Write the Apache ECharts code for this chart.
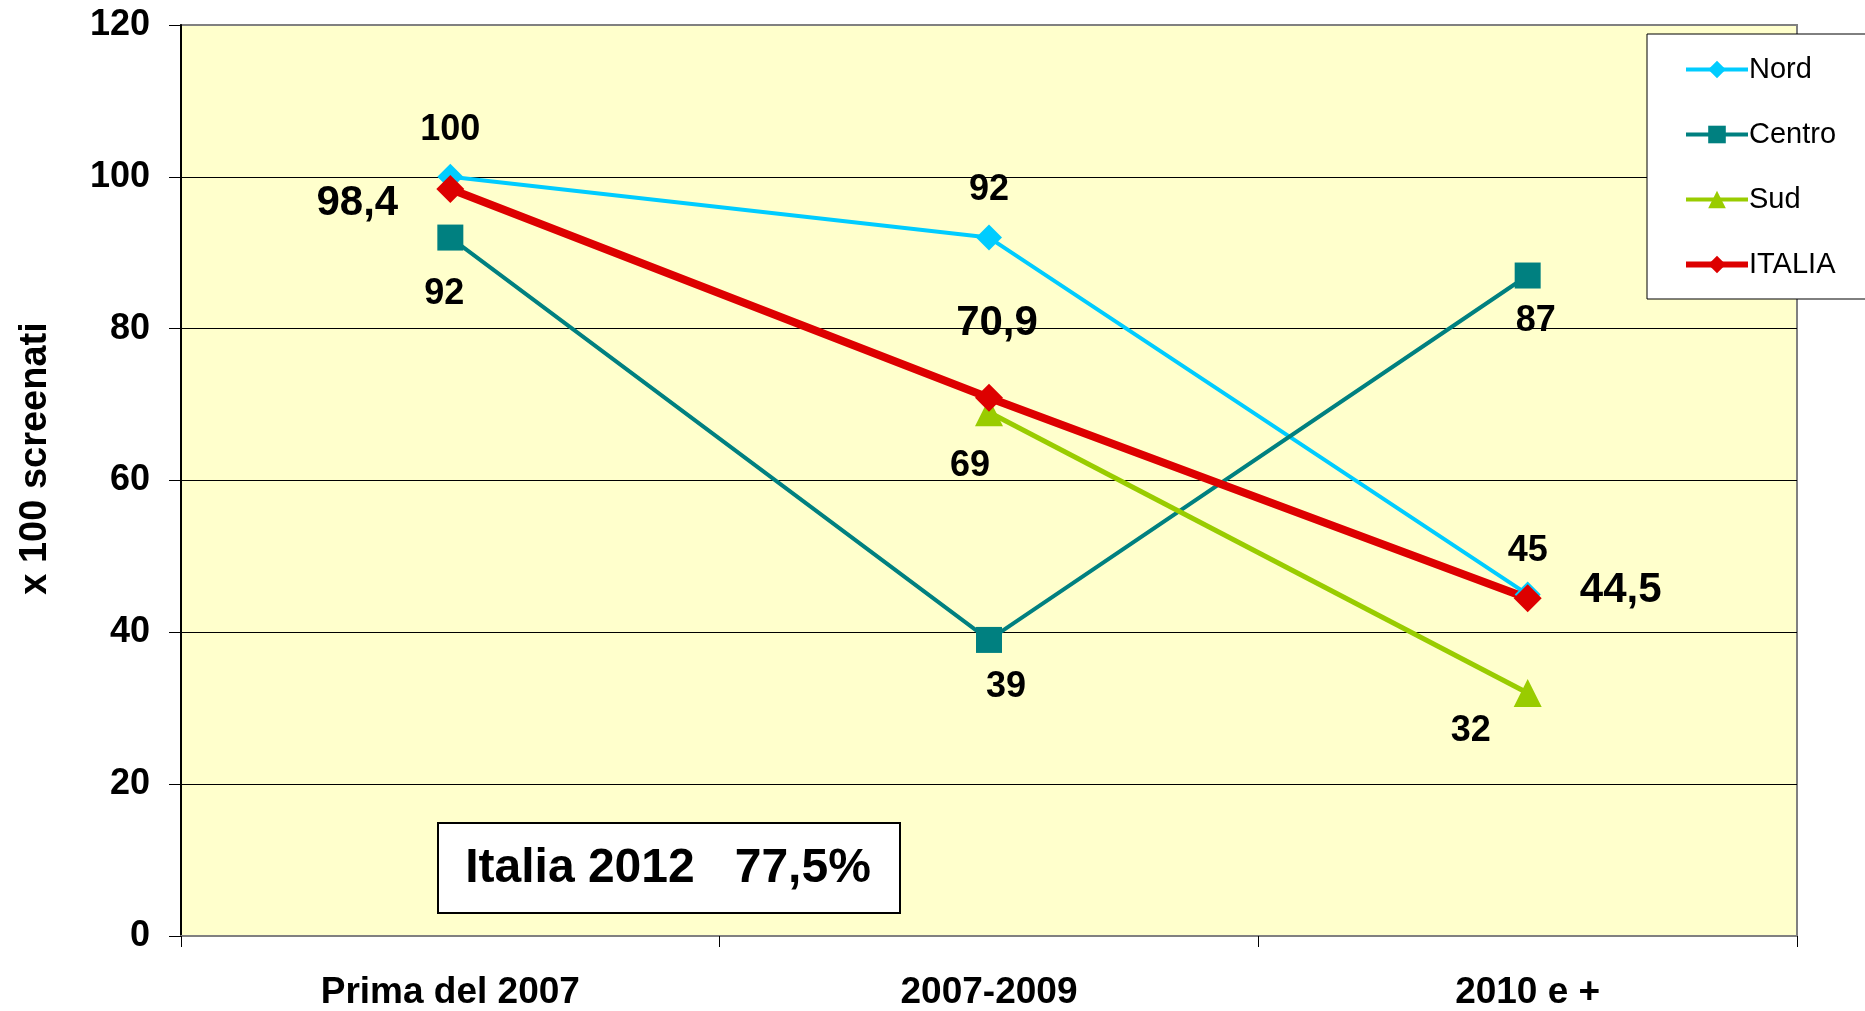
<!DOCTYPE html>
<html>
<head>
<meta charset="utf-8">
<title>x 100 screenati</title>
<script src="https://cdn.jsdelivr.net/npm/echarts@6/dist/echarts.min.js"></script>
<style>
    html, body { margin: 0; padding: 0; background: #fff; }
    #chart_form { width: 1865px; height: 1011px; }
</style>
</head>
<body>
<div id="chart_form"></div>
<script>
// dati
var categories = ["Prima del 2007", "2007-2009", "2010 e +"];
var seriesNames = ["Nord", "Centro", "Sud", "ITALIA"];
var nordValues = [100, 92, 45];
var centroValues = [92, 39, 87];
var sudValues = [null, 69, 32];
var italiaValues = [98.4, 70.9, 44.5];
var yTicks = [0, 20, 40, 60, 80, 100, 120];

// spostamento delle etichette (px) rispetto al punto
var nordOffsets = [[0, -47], [0, -47], [0, -43]];
var centroOffsets = [[-6, 57], [17, 47], [8, 46]];
var sudOffsets = [[0, 0], [-19, 54], [-57, 38]];
var italiaOffsets = [[-93, 14], [8, -74], [93, -8]];

var FONT = "'Liberation Sans', Arial, sans-serif";

var chart = {
    init: function(){
        var myChart = echarts.init(document.getElementById('chart_form'));
        myChart.setOption(chart.buildOption());
    },
    // formato numeri all'italiana
    fmt: function(v){
        return String(v).replace('.', ',');
    },
    lineSeries: function(name, values, offsets, color, width, symbol, symbolSize, labelSize){
        return {
            name: name,
            type: 'line',
            data: values,
            symbol: symbol,
            symbolSize: symbolSize,
            itemStyle: { color: color },
            lineStyle: { color: color, width: width },
            emphasis: { disabled: true },
            label: {
                show: true,
                position: 'inside',
                color: '#000',
                fontFamily: FONT,
                fontWeight: 'bold',
                fontSize: labelSize,
                formatter: function(p){ return chart.fmt(p.value); }
            },
            labelLayout: function(p){
                var o = offsets[p.dataIndex];
                return { dx: o[0], dy: o[1], hideOverlap: false };
            }
        };
    },
    legendItem: function(name, width){
        return { name: name, lineStyle: { width: width } };
    },
    buildOption: function(){
        var gridColors = yTicks.map(function(t, i){
            return (i === 0 || i === yTicks.length - 1) ? '#808080' : '#000';
        });
        return {
            animation: false,
            backgroundColor: '#fff',
            textStyle: { fontFamily: FONT },
            grid: {
                left: 181, right: 68, top: 25, bottom: 74,
                show: true,
                backgroundColor: '#FFFFCC',
                borderColor: '#808080',
                borderWidth: 2
            },
            legend: {
                orient: 'vertical',
                left: 1647,
                top: 34,
                data: [
                    chart.legendItem('Nord', 4),
                    chart.legendItem('Centro', 4),
                    chart.legendItem('Sud', 4),
                    chart.legendItem('ITALIA', 6)
                ],
                itemWidth: 62,
                itemHeight: 22,
                itemGap: 36,
                padding: [21, 60, 20, 36],
                backgroundColor: '#fff',
                borderColor: '#000',
                borderWidth: 1,
                textStyle: { fontFamily: FONT, fontSize: 29, color: '#000', padding: [0, 0, 0, -4] }
            },
            xAxis: {
                type: 'category',
                data: categories,
                boundaryGap: true,
                axisLine: { lineStyle: { color: '#808080', width: 2 } },
                axisTick: { show: true, length: 11, lineStyle: { color: '#000' } },
                axisLabel: {
                    margin: 38,
                    color: '#000',
                    fontFamily: FONT,
                    fontWeight: 'bold',
                    fontSize: 37
                },
                splitLine: { show: false }
            },
            yAxis: {
                type: 'value',
                min: 0,
                max: 120,
                interval: 20,
                name: 'x 100 screenati',
                nameLocation: 'middle',
                nameGap: 126,
                nameTextStyle: {
                    color: '#000',
                    fontFamily: FONT,
                    fontWeight: 'bold',
                    fontSize: 38,
                    padding: [0, 0, 0, 44]
                },
                axisLine: { show: true, lineStyle: { color: '#000', width: 2 } },
                axisTick: { show: true, length: 12, lineStyle: { color: '#000' } },
                axisLabel: {
                    margin: 31,
                    color: '#000',
                    fontFamily: FONT,
                    fontWeight: 'bold',
                    fontSize: 36,
                    padding: [4, 0, 0, 0]
                },
                splitLine: { show: true, lineStyle: { color: gridColors, width: 1 } }
            },
            graphic: [
                {
                    type: 'group',
                    left: 437,
                    top: 822,
                    children: [
                        {
                            type: 'rect',
                            shape: { x: 0, y: 0, width: 462, height: 90 },
                            style: { fill: '#fff', stroke: '#000', lineWidth: 2 }
                        },
                        {
                            type: 'text',
                            x: 230,
                            y: 46,
                            style: {
                                text: 'Italia 2012   77,5%',
                                fill: '#000',
                                font: 'bold 48px ' + FONT,
                                align: 'center',
                                verticalAlign: 'middle'
                            }
                        }
                    ]
                }
            ],
            series: [
                chart.lineSeries('Nord', nordValues, nordOffsets, '#00CCFF', 4, 'diamond', 26, 36),
                chart.lineSeries('Centro', centroValues, centroOffsets, '#008080', 4, 'rect', 26, 36),
                chart.lineSeries('Sud', sudValues, sudOffsets, '#99CC00', 5, 'triangle', 28, 36),
                chart.lineSeries('ITALIA', italiaValues, italiaOffsets, '#DD0000', 8, 'diamond', 28, 42)
            ]
        };
    }
};

chart.init();
</script>
</body>
</html>
